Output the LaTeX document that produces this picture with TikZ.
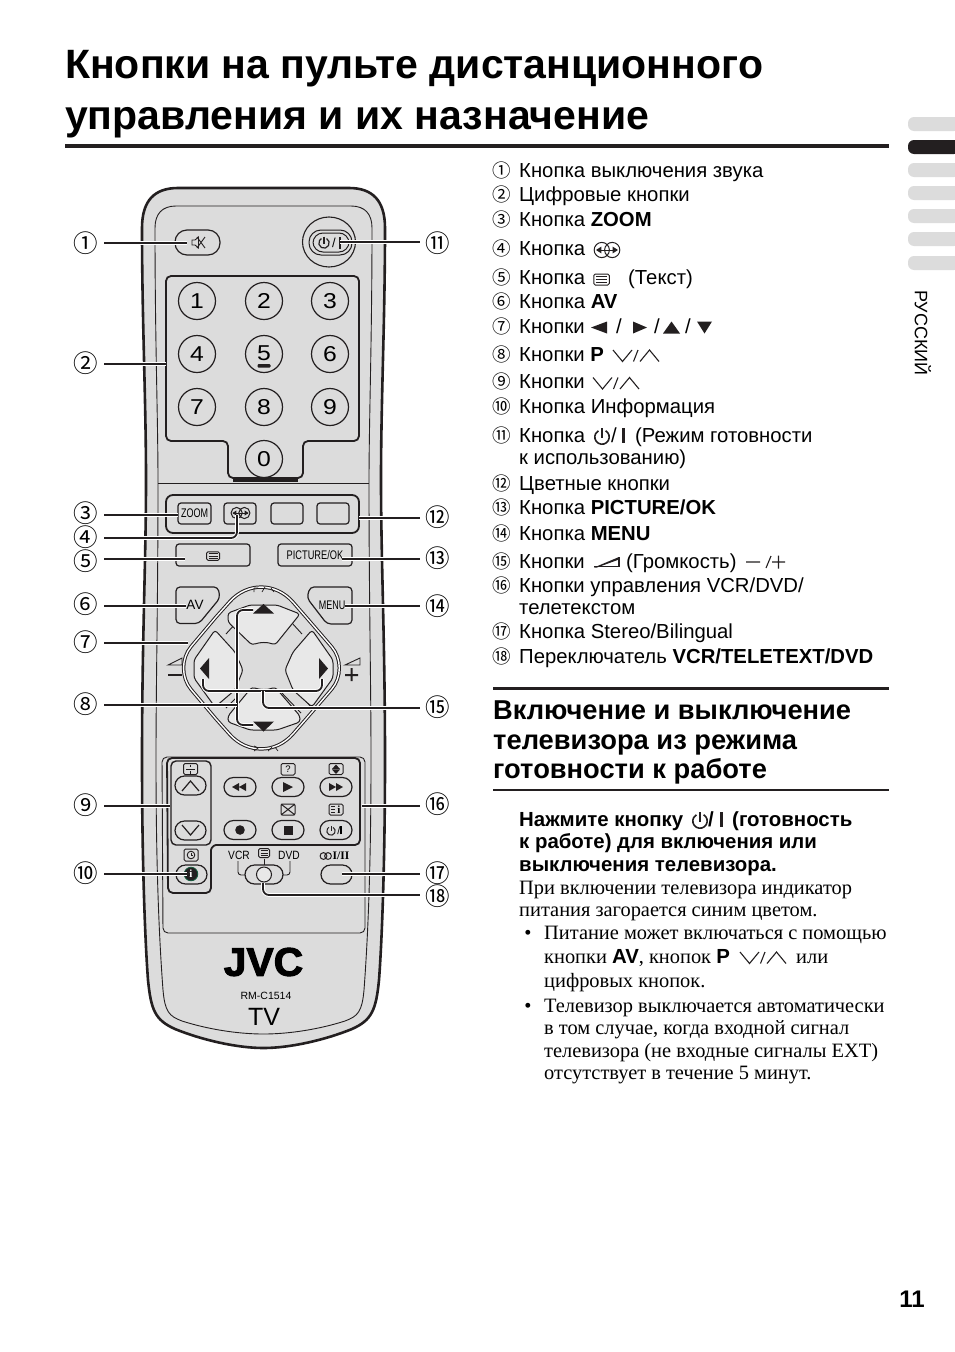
\documentclass[tikz,border=0pt]{standalone}
\usepackage{fontspec}
\setmainfont{Liberation Sans}
\newfontfamily\srf{Liberation Serif}
\newfontfamily\cjk{Noto Sans CJK JP}
\newfontfamily\jvcf[FakeBold=2.5]{Liberation Sans}
\newcommand\fs[1]{\fontsize{#1}{#1}\selectfont}
\newcommand\sx[2]{\scalebox{#1}[1]{#2}}
\definecolor{rbody}{HTML}{DCDCDC}
\definecolor{rkey}{HTML}{E8E8E8}
\definecolor{rink}{HTML}{231F20}
\tikzset{
 outline/.style={draw=rink,line width=2.6,fill=rbody},
 thin/.style={draw=rink,line width=0.9},
 panel/.style={draw=rink,line width=1.8,rounded corners=5},
 kbtn/.style={draw=rink,line width=1.2,fill=rbody,rounded corners=3,inner sep=0pt},
 pill/.style={draw=rink,line width=1.2,fill=rbody,rounded corners=9.5,inner sep=0pt},
 numkey/.style={draw=rink,line width=1.2,circle,minimum size=37,inner sep=0pt,font=\fs{21.5},fill=rbody},
 dkey/.style={draw=rink,line width=1,fill=rkey,rounded corners=3},
 conn/.style={draw=rink,line width=1.8,rounded corners=6,preaction={draw=white,line width=3.8}},
 call/.style={inner sep=0pt,minimum width=36,minimum height=24,font=\cjk\fs{24.5}},
 item/.style={anchor=base west,inner sep=0pt,font=\fs{20.3}},
 inum/.style={anchor=base,inner sep=0pt,font=\cjk\fs{18.5}},
 bodyt/.style={anchor=base west,inner sep=0pt,font=\srf\fs{20.4}},
 boldt/.style={anchor=base west,inner sep=0pt,font=\bfseries\fs{20.4}},
 head/.style={anchor=base west,inner sep=0pt,font=\bfseries\fs{27.3}},
 titlet/.style={anchor=base west,inner sep=0pt,font=\bfseries\fs{41}},
 tab/.style={fill=rbody,rounded corners=6},
 icon/.style={draw=rink,line width=1},
}
% power symbol: centre x,y radius, width
\newcommand\pwr[4]{\draw[rink,line width=#4] (#1+0.5*#3,#2-0.866*#3) arc[start angle=-60,end angle=240,radius=#3];\draw[rink,line width=#4] (#1,#2-1.25*#3)--(#1,#2+0.1*#3);}
% teletext icon
\newcommand\tele[4]{\draw[icon,rounded corners=1.5] (#1-#3/2,#2-#4/2) rectangle (#1+#3/2,#2+#4/2);
 \draw[rink,line width=.9] (#1-#3/2+2,#2-#4/4)--(#1+#3/2-2,#2-#4/4) (#1-#3/2+2,#2)--(#1+#3/2-2,#2) (#1-#3/2+2,#2+#4/4)--(#1+#3/2-2,#2+#4/4);}
% sound icon
\newcommand\sound[3]{\draw[icon] (#1-#3*0.55,#2) circle[radius=#3*0.8] (#1+#3*0.55,#2) circle[radius=#3*0.8];
 \draw[rink,line width=1] (#1-#3*1.05,#2)--(#1+#3*1.05,#2);
 \fill[rink] (#1-#3*1.15,#2)--(#1-#3*0.6,#2-#3*0.36)--(#1-#3*0.6,#2+#3*0.36)--cycle (#1+#3*1.15,#2)--(#1+#3*0.6,#2-#3*0.36)--(#1+#3*0.6,#2+#3*0.36)--cycle;}
% v / ^ starting x, top y
\newcommand\chev[3]{\draw[rink,line width=1.1] (#1,#2)--(#1+9.5,#2+11.5)--(#1+19,#2) (#1+20.5,#2+11.5)--(#1+25,#2) (#1+#3,#2+11.5)--(#1+#3+9.5,#2)--(#1+#3+19,#2+11.5);}
\begin{document}
\begin{tikzpicture}[x=1pt,y=-1pt]
\useasboundingbox (0,0) rectangle (954,1352);
\fill[white] (0,0) rectangle (954,1352);

% ===== title
\node[titlet] (title1) at (65,78) {Кнопки на пульте дистанционного};
\node[titlet] (title2) at (65,129) {управления и их назначение};
\fill[rink] (65,144) rectangle (889,148);

% ===== side tabs
\foreach \yy in {117,163,186,209,232,256}{\fill[tab] (908,\yy) rectangle (960,\yy+14);}
\fill[rink,rounded corners=6] (908,140) rectangle (960,154);
\node[rotate=-90,inner sep=0pt,font=\fs{18}] (lang) at (923,333) {РУССКИЙ};
\node[anchor=base,inner sep=0pt,font=\bfseries\fs{24}] (pageno) at (912,1307) {11};

% ===== remote body
\draw[outline] (142,228) .. controls (142,200) and (155,188) .. (178,188) -- (349,188)
 .. controls (372,188) and (385,200) .. (385,228)
 .. controls (385,320) and (381,400) .. (381,480) .. controls (381,560) and (385,640) .. (385,760)
 .. controls (385,860) and (382,940) .. (379,980)
 .. controls (376,1010) and (372,1020) .. (352,1029)
 .. controls (325,1040) and (290,1048) .. (263.5,1048)
 .. controls (237,1048) and (202,1040) .. (175,1029)
 .. controls (155,1020) and (151,1010) .. (148,980)
 .. controls (145,940) and (142,860) .. (142,760)
 .. controls (142,640) and (146,560) .. (146,480) .. controls (146,400) and (142,320) .. (142,228) -- cycle;
\draw[thin] (155,228) .. controls (155,214) and (162,206) .. (176,206) -- (351,206)
 .. controls (365,206) and (372,214) .. (372,228)
 .. controls (372,340) and (369,420) .. (369,483) .. controls (369,600) and (371,680) .. (371,760)
 .. controls (371,880) and (367,950) .. (364,990)
 .. controls (362,1012) and (358,1016) .. (345,1021)
 .. controls (320,1029) and (290,1034) .. (263.5,1034)
 .. controls (237,1034) and (207,1029) .. (182,1021)
 .. controls (169,1016) and (165,1012) .. (163,990)
 .. controls (160,950) and (156,880) .. (156,760)
 .. controls (156,680) and (158,600) .. (158,483) .. controls (158,420) and (155,340) .. (155,228) -- cycle;
\draw[thin] (158,483)--(369,483);
\draw[thin,rounded corners=5] (162,757) -- (365,757) -- (365,933) -- (163,933) -- cycle;

% ===== top buttons
\node[pill,rounded corners=12,minimum width=45,minimum height=25] (mute) at (197.5,242.5) {};
\draw[rink,line width=.9] (192,240)--(195,240)--(198.5,237)--(198.5,248)--(195,245)--(192,245)--cycle;
\draw[rink,line width=.9] (197,237)--(205,248) (205,237)--(197,248);
\draw[thin,line width=1.1,fill=rbody] (329,242) ellipse [x radius=26.5,y radius=25];
\node[pill,line width=1,rounded corners=12,minimum width=43,minimum height=25] (power) at (330.5,242.5) {};
\draw[rink,line width=1,rounded corners=10] (313,233) rectangle (349,252);
\pwr{324}{243}{5.2}{1.2}
\node[inner sep=0pt,font=\fs{13}] (pslash) at (334,243) {/};
\fill[rink] (338.5,237) rectangle (341,249);

% ===== numeric panel
\draw[panel,fill=rbody] (166,276) -- (359,276) -- (359,441) -- (303,441) -- (303,478) -- (228,478) -- (228,441) -- (166,441) -- cycle;
\foreach \n/\xx/\yy in {1/197/301,2/264/301,3/330/301,4/197/354,6/330/354,7/197/407,8/264/407,9/330/407,0/264/459}{
 \node[numkey] (key\n) at (\xx,\yy) {\sx{1.15}{\n}};}
\node[numkey] (key5) at (264,354) {\raisebox{1.5pt}{\sx{1.15}{5}}};
\fill[rink,rounded corners=1] (257.5,364) rectangle (270.5,367.5);
\fill[rink] (233,478) rectangle (298,481.5);

% ===== colour panel
\draw[panel,fill=rbody,rounded corners=7] (166,495) rectangle (359,533);
\node[kbtn,minimum width=33,minimum height=21,font=\fs{12.5}] (zoom) at (194.5,513.5) {\sx{.72}{ZOOM}};
\node[kbtn,minimum width=32,minimum height=21] (snd) at (240,513.5) {};
\sound{240.5}{513}{7}
\node[kbtn,minimum width=32,minimum height=21] (colc) at (287,513.5) {};
\node[kbtn,minimum width=32,minimum height=21] (cold) at (333,513.5) {};
\node[kbtn,minimum width=74,minimum height=22] (txt) at (213,555) {};
\tele{213}{556}{13}{8.5}
\node[kbtn,minimum width=74,minimum height=22,font=\fs{12.5}] (pic) at (315,555) {\sx{.74}{PICTURE/OK}};

% ===== AV / MENU
\draw[kbtn,rounded corners=4] (176,587) -- (218,587) -- (220,598) -- (199,623.5) -- (176,623.5) -- cycle;
\node[inner sep=0pt,font=\fs{13.5}] (av) at (195,604.5) {AV};
\draw[kbtn,rounded corners=4] (352,587) -- (310,587) -- (307,598) -- (327,624) -- (352,624) -- cycle;
\node[inner sep=0pt,font=\fs{12.5}] (menu) at (332,605) {\sx{.72}{MENU}};

% ===== d-pad
\draw[rink,line width=1,double=white,double distance=1.4,fill=rbody]
 (216,617) [rounded corners=48] -- (261.5,566) [rounded corners=0] -- (306,617)
 [rounded corners=28] -- (350,668) [rounded corners=0] -- (306,719)
 [rounded corners=48] -- (261.5,770) [rounded corners=0] -- (216,719)
 [rounded corners=28] -- (173,668) [rounded corners=0] -- cycle;
\draw[rink,line width=.9] (226,634)--(236,623) (292,623)--(302,634) (219,704)--(229,693) (236,698)--(226,708) (281,692)--(301,713) (297,691)--(312,708);
\draw[dkey] (228,613) -- (250,605) -- (277,605) -- (300,614) -- (275,645) .. controls (268,642) and (260,642) .. (252,645) -- (228,622) -- cycle;
\draw[dkey] (228,716) -- (252,687) .. controls (260,690) and (268,690) .. (275,687) -- (300,716) -- (300,722) -- (277,730) -- (250,730) -- (228,722) -- cycle;
\draw[dkey] (215,630) -- (194,660) -- (194,678) -- (215,707) -- (235,690) -- (243,670) -- (235,652) -- cycle;
\draw[dkey] (312,630) -- (333,660) -- (333,678) -- (312,707) -- (293,690) -- (285,670) -- (293,652) -- cycle;
\fill[rink] (263.5,604)--(274,613.5)--(253,613.5)--cycle;
\fill[rink] (263.5,731.5)--(274,721.5)--(253,721.5)--cycle;
\fill[rink] (200,668.5)--(209,658)--(209,679)--cycle;
\fill[rink] (328,668.5)--(319,658)--(319,679)--cycle;
% tiny P marks
\draw[rink,line width=.7] (254,592)--(254,588)--(258,588) (262,592)--(265,587) (271,588)--(274,592);
\draw[rink,line width=.7] (254,746)--(258,748)--(254,751) (268,751)--(272,747) (275,747)--(278,751);
% volume marks
\draw[rink,line width=.9] (168,665)--(182,658)--(182,665)--cycle;
\fill[rink] (168,674) rectangle (182,676);
\draw[rink,line width=.9] (345,665)--(360,658)--(360,665)--cycle;
\fill[rink] (345,674) rectangle (358,676) (350.5,668) rectangle (352.5,681);

% ===== VCR panel
\draw[panel,fill=rbody] (167,758) -- (360,758) -- (360,845) -- (221,845) .. controls (214,845) and (211,848) .. (211,855) -- (211,893) -- (168,893) -- cycle;
\draw[panel,line width=1.4] (171,761) rectangle (211,845);
\node[pill,minimum width=31,minimum height=19] (chup) at (190.5,785.5) {};
\draw[rink,line width=1.2] (182,791)--(190.5,781)--(199,791);
\node[pill,minimum width=31,minimum height=19] (chdn) at (190.5,830.5) {};
\draw[rink,line width=1.2] (182,825)--(190.5,835)--(199,825);
\node[pill,minimum width=32,minimum height=19] (rew) at (240,787) {};
\fill[rink] (232,787)--(239,783)--(239,791)--cycle (239,787)--(246,783)--(246,791)--cycle;
\node[pill,minimum width=32,minimum height=19] (play) at (288,787) {};
\fill[rink] (283,782)--(293,787)--(283,792)--cycle;
\node[pill,minimum width=32,minimum height=19] (ffw) at (336,787) {};
\fill[rink] (329,783)--(336,787)--(329,791)--cycle (336,783)--(343,787)--(336,791)--cycle;
\node[pill,minimum width=32,minimum height=19] (rec) at (240,830) {};
\fill[rink] (240,830) circle[radius=4.8];
\node[pill,minimum width=32,minimum height=19] (stop) at (288,830) {};
\fill[rink] (283.5,825.5) rectangle (292.5,834.5);
\node[pill,minimum width=32,minimum height=19] (vpow) at (336,830) {};
\pwr{331}{831}{4.2}{1}
\node[inner sep=0pt,font=\fs{10.5}] (vslash) at (339.5,830.5) {/\rule{1.2pt}{8pt}};
% little icons
\draw[icon,rounded corners=1.5] (183.5,763.5) rectangle (197.5,774.5);
\draw[rink,line width=.9] (186,769)--(195,769) (190.5,764.5)--(190.5,767) (190.5,771)--(190.5,773.5);
\draw[icon,rounded corners=1.5] (281,763.5) rectangle (295,775);
\node[inner sep=0pt,font=\fs{9.5}] (qm) at (288,769.5) {?};
\draw[icon,rounded corners=1.5] (329,763.5) rectangle (343,774.5);
\fill[rink] (336,764.5)--(340,769)--(332,769)--cycle (336,774)--(340,769.5)--(332,769.5)--cycle;
\draw[icon,rounded corners=1.5] (281,804) rectangle (295,815);
\draw[rink,line width=1] (281,804)--(295,815) (295,804)--(281,815);
\draw[icon,rounded corners=1.5] (329,804) rectangle (343,815);
\draw[rink,line width=.8] (331,806.5)--(335,806.5) (331,809.5)--(335,809.5) (331,812.5)--(335,812.5);
\node[inner sep=0pt,font=\bfseries\srf\fs{11}] (ii) at (339,809.5) {i};
\draw[icon,rounded corners=1.5] (184,849) rectangle (198,861);
\draw[rink,line width=.9] (191,855) circle[radius=3.8];
\draw[rink,line width=.9] (191,852.5)--(191,855)--(193,855);
% info
\node[pill,minimum width=31,minimum height=19] (info) at (191.5,874.5) {};
\draw[fill=rink,draw={rgb,255:red,20;green,90;blue,60},line width=.8] (191,874) circle[radius=6.8];
\node[inner sep=0pt,text=white,font=\bfseries\srf\fs{11}] (infoi) at (191,874) {i};
% switch
\node[inner sep=0pt,font=\fs{12}] (vcr) at (239,855) {\sx{.85}{VCR}};
\node[inner sep=0pt,font=\fs{12}] (dvd) at (289,855) {\sx{.85}{DVD}};
\tele{264}{853}{11}{9}
\draw[rink,line width=.9,rounded corners=3] (238,861)--(238,875)--(246,875);
\draw[rink,line width=.9,rounded corners=3] (290,861)--(290,875)--(282,875);
\draw[rink,line width=.9] (264,858.5)--(264,866);
\node[pill,minimum width=38,minimum height=19] (sw) at (264,874.5) {};
\node[draw=rink,line width=1,circle,minimum size=15,inner sep=0pt,fill=rkey] (swk) at (264,874.5) {};
\draw[rink,line width=1] (323.5,856) circle[radius=3.4] (328,856) circle[radius=3.4];
\node[inner sep=0pt,font=\bfseries\srf\fs{11.5}] (stereo) at (341,856) {I/II};
\node[pill,minimum width=31,minimum height=19] (st) at (336.5,874.5) {};

% ===== logo
\node[inner sep=0pt,font=\jvcf\bfseries\fs{40}] (jvc) at (263.5,962) {\sx{1.02}{JVC}};
\node[inner sep=0pt,font=\fs{10.5}] (model) at (266,996) {RM-C1514};
\node[inner sep=0pt,font=\fs{25}] (tv) at (264,1017) {TV};

% ===== callouts
\node[call] (c1) at (86,243) {①};
\node[call] (c2) at (86,363) {②};
\node[call] (c3) at (86,513) {③};
\node[call] (c4) at (86,537) {④};
\node[call] (c5) at (86,561) {⑤};
\node[call] (c6) at (86,604) {⑥};
\node[call] (c7) at (86,642) {⑦};
\node[call] (c8) at (86,704) {⑧};
\node[call] (c9) at (86,805) {⑨};
\node[call] (c10) at (86,873) {⑩};
\node[call] (c11) at (438,243) {⑪};
\node[call] (c12) at (438,517) {⑫};
\node[call] (c13) at (438,558) {⑬};
\node[call] (c14) at (438,606) {⑭};
\node[call] (c15) at (438,707) {⑮};
\node[call] (c16) at (438,804) {⑯};
\node[call] (c17) at (438,873) {⑰};
\node[call] (c18) at (438,896) {⑱};

\coordinate (e1) at (187,243);
\coordinate (e2) at (166,364);
\coordinate (e3) at (178,515);
\coordinate (e4) at (237,515);
\coordinate (e5) at (185,559);
\coordinate (e6) at (186,606);
\coordinate (e7) at (188,643);
\coordinate (e8) at (237,705);
\coordinate (e8a) at (253,610);
\coordinate (e8b) at (253,725);
\coordinate (e9) at (170,806);
\coordinate (e10) at (187,874);
\coordinate (e11) at (340,242);
\coordinate (e12) at (359,518);
\coordinate (e13) at (342,559);
\coordinate (e14) at (345,606);
\coordinate (e15) at (263,691);
\coordinate (e15a) at (203,679);
\coordinate (e15b) at (322,679);
\coordinate (e16) at (362,806);
\coordinate (e17) at (342,874);
\coordinate (e18) at (263,883);

\draw[conn] (c1.east |- e1) -- (e1);
\draw[conn] (c2.east |- e2) -- (e2);
\draw[conn] (c3.east |- e3) -- (e3);
\draw[conn] (c4.east |- 0,538) -- (e4 |- 0,538) -- (e4);
\draw[conn] (c5.east |- e5) -- (e5);
\draw[conn] (c6.east |- e6) -- (e6);
\draw[conn] (c7.east |- e7) -- (e7);
\draw[conn] (e8a) -- (e8 |- e8a) -- (e8 |- e8b) -- (e8b);
\draw[conn] (e15a) -- (e15a |- e15) -- (e15b |- e15) -- (e15b);
\draw[conn] (c8.east |- e8) -- (e8);
\draw[conn] (c9.east |- e9) -- (e9);
\draw[conn] (c10.east |- e10) -- (e10);
\draw[conn] (c11.west |- e11) -- (e11);
\draw[conn] (c12.west |- e12) -- (e12);
\draw[conn] (c13.west |- e13) -- (e13);
\draw[conn] (c14.west |- e14) -- (e14);
\draw[conn] (c15.west |- 0,708) -- (e15 |- 0,708) -- (e15);
\draw[conn] (c16.west |- e16) -- (e16);
\draw[conn] (c17.west |- e17) -- (e17);
\draw[conn] (c18.west |- 0,895) -- (e18 |- 0,895) -- (e18);

% ===== list
\node[inum] (n1) at (502,177) {①}; \node[item] (i1) at (519,177) {Кнопка выключения звука};
\node[inum] (n2) at (502,201) {②}; \node[item] (i2) at (519,201) {Цифровые кнопки};
\node[inum] (n3) at (502,226) {③}; \node[item] (i3) at (519,226) {Кнопка \textbf{ZOOM}};
\node[inum] (n4) at (502,255) {④}; \node[item] (i4) at (519,255) {Кнопка};
\sound{607}{250}{9.5}
\node[inum] (n5) at (502,284) {⑤}; \node[item] (i5) at (519,284) {Кнопка};
\tele{601.5}{279.5}{15.5}{11}
\node[item] (i5b) at (628,284) {(Текст)};
\node[inum] (n6) at (502,308) {⑥}; \node[item] (i6) at (519,308) {Кнопка \textbf{AV}};
\node[inum] (n7) at (502,333) {⑦}; \node[item] (i7) at (519,333) {Кнопки};
\fill[rink] (591,327.5)--(607,321.5)--(607,333.5)--cycle;
\fill[rink] (647,327.5)--(633,321.5)--(633,333.5)--cycle;
\fill[rink] (663,333.5)--(680,333.5)--(671.5,321.5)--cycle;
\fill[rink] (697,321.5)--(712,321.5)--(704.5,333.5)--cycle;
\node[item] (sl1) at (616,333) {/};
\node[item] (sl2) at (654,333) {/};
\node[item] (sl3) at (685,333) {/};
\node[inum] (n8) at (502,361.5) {⑧}; \node[item] (i8) at (519,361.5) {Кнопки \textbf{P}};
\chev{613}{350}{27}
\node[inum] (n9) at (502,388) {⑨}; \node[item] (i9) at (519,388) {Кнопки};
\chev{593}{377.5}{27}
\node[inum] (n10) at (502,413) {⑩}; \node[item] (i10) at (519,413) {Кнопка Информация};
\node[inum] (n11) at (502,442) {⑪}; \node[item] (i11) at (519,442) {Кнопка};
\pwr{602}{437}{7.2}{1.6}
\node[item] (sl4) at (611,442) {/};
\fill[rink] (621.5,428) rectangle (625,443);
\node[item] (i11b) at (635,442) {(Режим готовности};
\node[item] (i11c) at (519,464) {к использованию)};
\node[inum] (n12) at (502,490) {⑫}; \node[item] (i12) at (519,490) {Цветные кнопки};
\node[inum] (n13) at (502,514) {⑬}; \node[item] (i13) at (519,514) {Кнопка \textbf{PICTURE/OK}};
\node[inum] (n14) at (502,540) {⑭}; \node[item] (i14) at (519,540) {Кнопка \textbf{MENU}};
\node[inum] (n15) at (502,568) {⑮}; \node[item] (i15) at (519,568) {Кнопки};
\draw[rink,line width=1.1] (594,566.5)--(619,566.5)--(619,557);
\fill[rink] (594,567.5)--(619,557)--(619,559.5)--(597,567.5)--cycle;
\node[item] (i15b) at (626,568) {(Громкость)};
\draw[rink,line width=1.1] (746,562)--(760,562) (766,568)--(771,556) (772,562)--(785,562) (778.5,555.5)--(778.5,568.5);
\node[inum] (n16) at (502,592) {⑯}; \node[item] (i16) at (519,592) {Кнопки управления VCR/DVD/};
\node[item] (i16b) at (519,614) {телетекстом};
\node[inum] (n17) at (502,638) {⑰}; \node[item] (i17) at (519,638) {Кнопка Stereo/Bilingual};
\node[inum] (n18) at (502,663) {⑱}; \node[item] (i18) at (519,663) {Переключатель \textbf{VCR/TELETEXT/DVD}};

% ===== section
\fill[rink] (493,687) rectangle (889,690);
\node[head] (h1) at (493,719) {Включение и выключение};
\node[head] (h2) at (493,749) {телевизора из режима};
\node[head] (h3) at (493,778) {готовности к работе};
\fill[rink] (493,789) rectangle (889,791);

\node[boldt] (b1) at (519,826) {Нажмите кнопку};
\pwr{700}{821}{7.2}{1.6}
\node[boldt] (bs) at (708,826) {/};
\fill[rink] (719.5,812) rectangle (723,827);
\node[boldt] (b1b) at (732,826) {(готовность};
\node[boldt] (b2) at (519,848) {к работе) для включения или};
\node[boldt] (b3) at (519,871) {выключения телевизора.};
\node[bodyt] (t1) at (519,894) {При включении телевизора индикатор};
\node[bodyt] (t2) at (519,916) {питания загорается синим цветом.};
\node[bodyt,anchor=base] (d1) at (528,939) {•};
\node[bodyt] (t3) at (544,939) {Питание может включаться с помощью};
\node[bodyt] (t4) at (544,963) {кнопки {\fontspec{Liberation Sans}\bfseries AV}, кнопок {\fontspec{Liberation Sans}\bfseries P}};
\chev{740}{952}{27}
\node[bodyt] (t4b) at (796,963) {или};
\node[bodyt] (t5) at (544,987) {цифровых кнопок.};
\node[bodyt,anchor=base] (d2) at (528,1012) {•};
\node[bodyt] (t6) at (544,1012) {Телевизор выключается автоматически};
\node[bodyt] (t7) at (544,1034) {в том случае, когда входной сигнал};
\node[bodyt] (t8) at (544,1057) {телевизора (не входные сигналы EXT)};
\node[bodyt] (t9) at (544,1079) {отсутствует в течение 5 минут.};
\end{tikzpicture}
\end{document}
